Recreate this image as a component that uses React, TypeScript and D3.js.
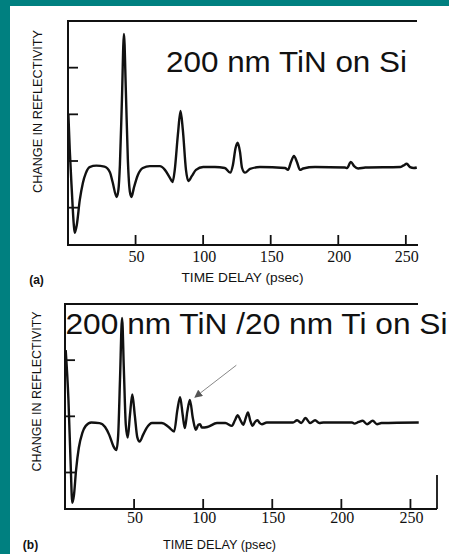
import React from "react";
import * as d3 from "d3";

const W = 449;
const H = 554;

// (a) 200 nm TiN on Si : time delay (psec) vs change in reflectivity (arb.)
const timeA = [0.3, 1.3, 2.8, 4.3, 5, 6.5, 8.7, 11, 13.2, 16, 21, 27, 31, 33, 36, 37.3, 38.4, 39.9, 41.4, 42.8, 44.3, 45.8, 47, 48.7, 51.7, 55.4, 60.6, 68, 71.7, 75.4, 77.4, 79, 81.3, 83.3, 85, 87.3, 89, 91.7, 94.7, 100, 108.7, 116, 120, 122, 124, 125.6, 127.3, 128.8, 131, 134.7, 142, 160.6, 162.8, 165, 167.2, 169.4, 171.7, 174, 182.8, 205, 206.5, 209.3, 211.7, 214.7, 220, 245.8, 248, 250.7, 253.1, 256, 258.1];
const reflA = [1.99, 1.24, 0.38, -0.37, -0.54, -0.37, 0.16, 0.53, 0.74, 0.87, 0.9, 0.88, 0.76, 0.55, 0.23, 0.38, 0.91, 2.31, 3.72, 2.52, 1.02, 0.34, 0.23, 0.42, 0.7, 0.85, 0.89, 0.89, 0.81, 0.64, 0.55, 0.81, 1.56, 2.07, 1.66, 0.81, 0.57, 0.68, 0.81, 0.87, 0.87, 0.85, 0.75, 0.91, 1.28, 1.39, 1.19, 0.85, 0.75, 0.83, 0.87, 0.85, 0.81, 0.98, 1.11, 0.98, 0.81, 0.84, 0.87, 0.86, 0.85, 0.98, 0.89, 0.84, 0.86, 0.87, 0.9, 0.94, 0.87, 0.85, 0.86];

// (b) 200 nm TiN / 20 nm Ti on Si
const timeB = [0.5, 2.5, 4, 5.3, 6.5, 8, 10, 12.5, 15, 19, 25, 29, 32, 35, 37.2, 38.5, 39.8, 41.3, 42.6, 44, 45.4, 47, 48.7, 50.5, 52.3, 54, 56.5, 59, 63, 70, 75, 79, 81.3, 83.3, 85.2, 86.7, 88.5, 90.4, 92.5, 94.7, 96.5, 97.8, 99, 103, 110, 116, 120.8, 123, 125, 127, 129, 130.8, 132.4, 134, 135.7, 137.5, 139.3, 141, 142.5, 146, 165, 168, 171, 174, 177.5, 181, 184, 187, 207.7, 209.4, 212.5, 215.4, 218.6, 222.7, 225.8, 229, 256];
const reflB = [2.18, 1.29, 0.22, -0.54, -0.4, 0.04, 0.44, 0.7, 0.83, 0.89, 0.88, 0.81, 0.67, 0.47, 0.4, 0.67, 1.65, 2.75, 1.83, 0.85, 0.62, 1.02, 1.39, 1.02, 0.63, 0.55, 0.67, 0.79, 0.88, 0.88, 0.81, 0.73, 1.11, 1.34, 1.02, 0.79, 1.08, 1.29, 0.97, 0.76, 0.85, 0.86, 0.8, 0.81, 0.88, 0.88, 0.83, 0.93, 1.02, 0.93, 0.85, 0.97, 1.07, 0.93, 0.83, 0.9, 0.93, 0.88, 0.86, 0.89, 0.89, 0.93, 0.88, 0.97, 0.88, 0.93, 0.88, 0.89, 0.89, 0.87, 0.9, 0.92, 0.86, 0.92, 0.86, 0.88, 0.89];

const xTicks = [50, 100, 150, 200, 250];
const yTicksA = [0, 1, 2, 3];
const yTicksB = [0, 1, 2];

// arrow pointing at the doubled echo in (b), data coords [time, refl]
const arrowFrom = [124, 1.91];
const arrowTo = [94, 1.34];

const SANS = "'Liberation Sans', Arial, sans-serif";
const SERIF = "'Liberation Serif', 'Times New Roman', serif";
const INK = "#111";

function Panel(props: any) {
  const { times, refl, xMax, yMin, yMax, yTicks, left, right, top, bottom, topRight, axisRight, labelGap, arrow } = props;
  const x = d3.scaleLinear().domain([0, xMax]).range([left, right]);
  const y = d3.scaleLinear().domain([yMin, yMax]).range([bottom, top]);
  const line = d3.line<number>()
    .x((_, i) => x(times[i]))
    .y((d) => y(d))
    .curve(d3.curveMonotoneX);

  return (
    <g>
      <path d={line(refl) || ""} fill="none" stroke={INK} strokeWidth={2.4} strokeLinejoin="round" />
      <line x1={left} x2={left} y1={top} y2={bottom} stroke={INK} strokeWidth={2} />
      <line x1={left - 1} x2={axisRight} y1={bottom} y2={bottom} stroke={INK} strokeWidth={2} />
      <line x1={left - 1} x2={topRight} y1={top} y2={top} stroke={INK} strokeWidth={2} />
      {yTicks.map((t: number) => (
        <line key={"y" + t} x1={left} x2={left + 10} y1={y(t)} y2={y(t)} stroke={INK} strokeWidth={1.8} />
      ))}
      {xTicks.map((t) => (
        <g key={"x" + t}>
          <line x1={x(t)} x2={x(t)} y1={bottom} y2={bottom - 10} stroke={INK} strokeWidth={1.8} />
          <text x={x(t) + 1} y={bottom + labelGap} textAnchor="middle" fontFamily={SERIF} fontSize={16} fill={INK}>
            {t}
          </text>
        </g>
      ))}
      {arrow && (
        <line
          x1={x(arrow[0][0])}
          y1={y(arrow[0][1])}
          x2={x(arrow[1][0])}
          y2={y(arrow[1][1])}
          stroke="#888"
          strokeWidth={1}
          markerEnd="url(#arrowhead)"
        />
      )}
    </g>
  );
}

export default function App() {
  return (
    <svg width={W} height={H} style={{ position: "absolute", left: 0, top: 0 }}>
      <defs>
        <marker id="arrowhead" viewBox="0 0 10 10" refX="9" refY="5" markerWidth="8" markerHeight="8" markerUnits="userSpaceOnUse" orient="auto">
          <path d="M0,0 L10,5 L0,10 z" fill="#555" />
        </marker>
      </defs>
      <rect width={W} height={H} fill="#008080" />
      <rect x={10} y={6} width={W - 10} height={H - 6} fill="#fff" />

      {/* (a) */}
      <Panel
        times={timeA}
        refl={reflA}
        xMax={259}
        yMin={-0.8}
        yMax={4}
        yTicks={yTicksA}
        left={68}
        right={418}
        top={21}
        bottom={245}
        topRight={417}
        axisRight={418}
        labelGap={17}
      />
      <text x={166} y={71.5} fontFamily={SANS} fontSize={30} fill={INK} textLength={241} lengthAdjust="spacingAndGlyphs">
        200 nm TiN on Si
      </text>
      <text transform="translate(42,111.5) rotate(-90)" textAnchor="middle" fontFamily={SANS} fontSize={13} fill={INK} textLength={163} lengthAdjust="spacingAndGlyphs">
        CHANGE IN REFLECTIVITY
      </text>
      <text x={242.5} y={281.5} textAnchor="middle" fontFamily={SANS} fontSize={13} fill={INK} textLength={122} lengthAdjust="spacingAndGlyphs">
        TIME  DELAY  (psec)
      </text>
      <text x={36.5} y={284} textAnchor="middle" fontFamily={SANS} fontWeight="bold" fontSize={12} fill={INK}>
        (a)
      </text>

      {/* (b) */}
      <Panel
        times={timeB}
        refl={reflB}
        xMax={269}
        yMin={-0.65}
        yMax={3}
        yTicks={yTicksB}
        left={65}
        right={436.7}
        top={304}
        bottom={509}
        topRight={418}
        axisRight={437}
        labelGap={14}
        arrow={[arrowFrom, arrowTo]}
      />
      <line x1={437} x2={437} y1={475} y2={509} stroke={INK} strokeWidth={1.8} />
      <text x={65.5} y={334} fontFamily={SANS} fontSize={30} fill={INK} textLength={382} lengthAdjust="spacingAndGlyphs">
        200 nm TiN /20 nm Ti on Si
      </text>
      <text transform="translate(41,391.5) rotate(-90)" textAnchor="middle" fontFamily={SANS} fontSize={13} fill={INK} textLength={160} lengthAdjust="spacingAndGlyphs">
        CHANGE IN REFLECTIVITY
      </text>
      <text x={219.5} y={549} textAnchor="middle" fontFamily={SANS} fontSize={13} fill={INK} textLength={113} lengthAdjust="spacingAndGlyphs">
        TIME  DELAY  (psec)
      </text>
      <text x={30.5} y={549} textAnchor="middle" fontFamily={SANS} fontWeight="bold" fontSize={12} fill={INK}>
        (b)
      </text>
    </svg>
  );
}
